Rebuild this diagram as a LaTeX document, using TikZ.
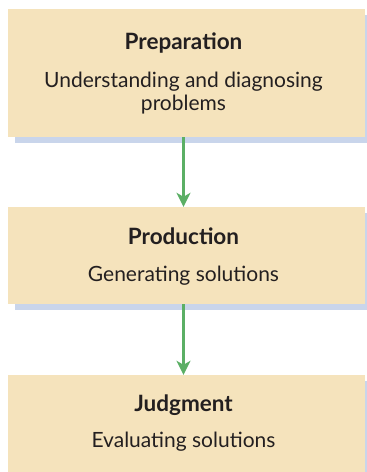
\documentclass[tikz,border=0pt]{standalone}
\usepackage{fontspec}
\setmainfont{Lato}
\usetikzlibrary{arrows.meta,shadows}
\definecolor{boxfill}{HTML}{F5E3BC}
\definecolor{shade}{HTML}{C9D5EB}
\definecolor{arrowgreen}{HTML}{5BAF65}
\definecolor{ink}{HTML}{231F20}
\begin{document}
\begin{tikzpicture}[x=1pt,y=1pt,
  stagebox/.style={fill=boxfill, minimum width=357pt, inner sep=0pt, draw=none,
    general shadow={fill=shade, shadow xshift=7pt, shadow yshift=-6pt}},
  titletext/.style={font=\fontsize{22.5}{26}\selectfont\bfseries, text=ink, anchor=base, inner sep=0pt},
  desctext/.style={font=\fontsize{21}{23.5}\selectfont, text=ink, align=center, anchor=base, inner sep=0pt},
  flow/.style={draw=arrowgreen, line width=3pt, -{Stealth[length=14pt,width=14pt,inset=4pt]}}]
\useasboundingbox (0,0) rectangle (367,472);
\clip (0,0) rectangle (367,472);
\node[stagebox, minimum height=128pt] (b1) at (186.5,399) {};
\node[stagebox, minimum height=97pt] (b2) at (186.5,216.5) {};
\node[stagebox, minimum height=107pt] (b3) at (186.5,43.5) {};
\coordinate (col) at (183.5,0);
\node[titletext] (t1) at (183.5,422) {Preparation};
\node[desctext] (d1) at (183.5,361) {Understanding and diagnosing\\problems};
\node[titletext] (t2) at (183.5,227) {Production};
\node[desctext] (d2) at (183.5,190) {Generating solutions};
\node[titletext] (t3) at (183.5,60) {Judgment};
\node[desctext] (d3) at (183.5,24) {Evaluating solutions};
\draw[flow] (b1.south -| col) -- (b2.north -| col);
\draw[flow] (b2.south -| col) -- (b3.north -| col);
\end{tikzpicture}
\end{document}
